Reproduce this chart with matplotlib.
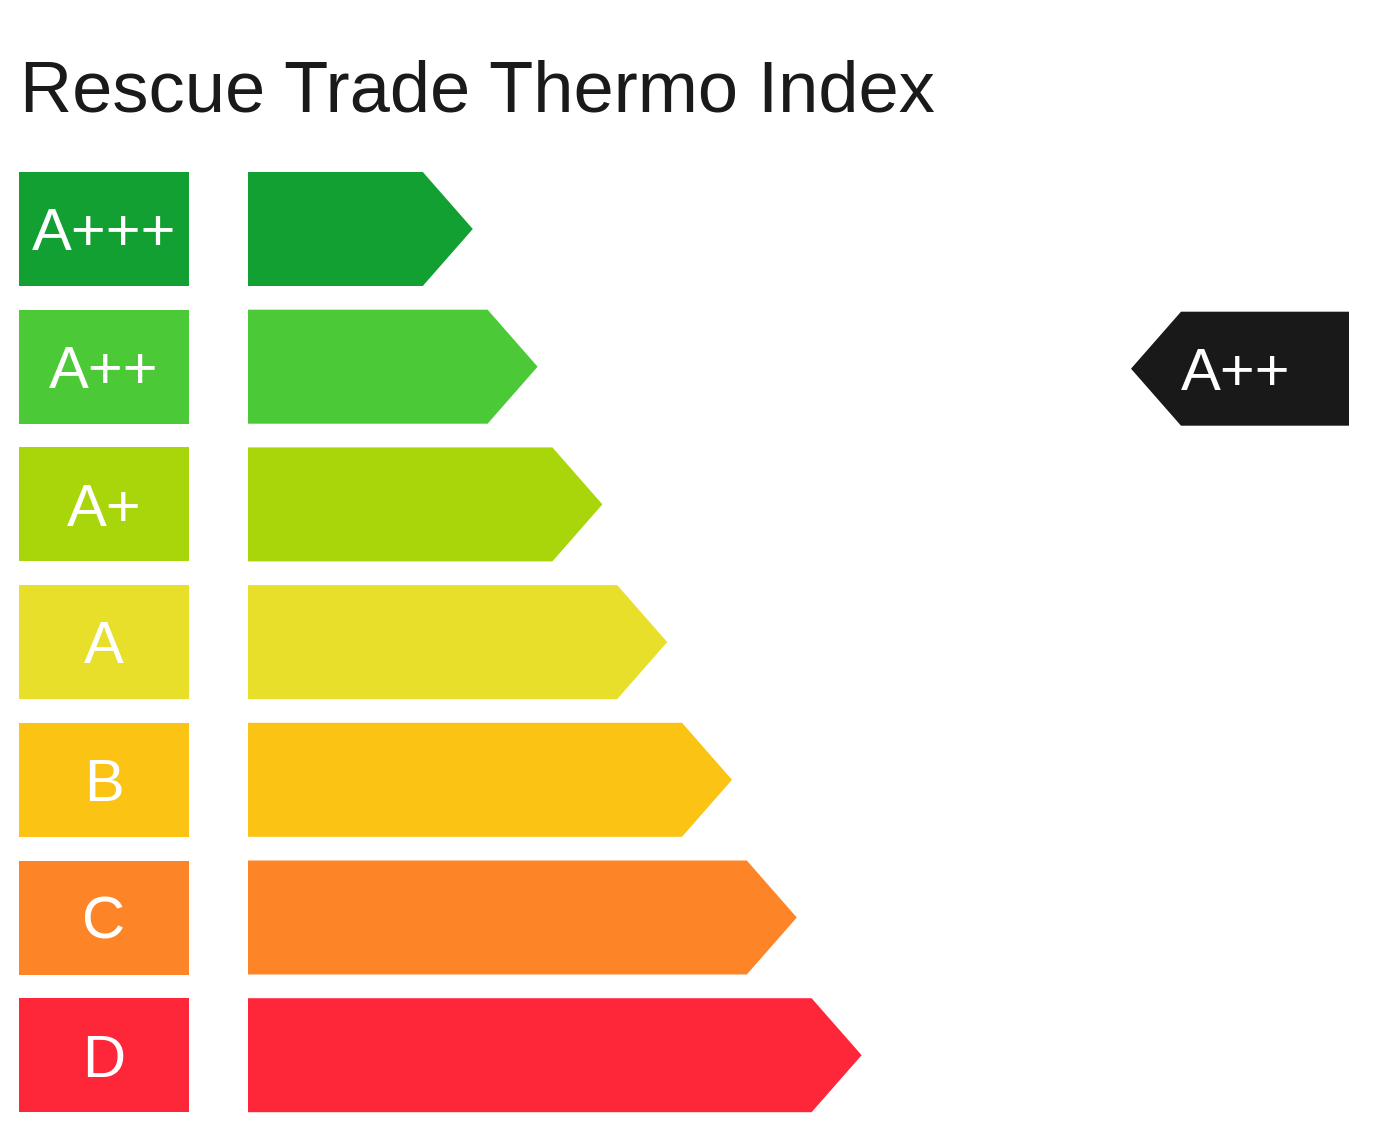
import matplotlib.pyplot as plt
from matplotlib.patches import Polygon, Rectangle

# energy-label style ratings, best to worst
ratings = ['A+++', 'A++', 'A+', 'A', 'B', 'C', 'D']
colors = ['#12a033', '#4cc936', '#a8d60a', '#e8df2a', '#fbc314', '#fe8428', '#fe2639']
scores = [1, 2, 3, 4, 5, 6, 7]   # arrow length grows with score
current = 'A++'
title = 'Rescue Trade Thermo Index'

W, H = 1376, 1134
FONT = 'Liberation Sans'

fig = plt.figure(figsize=(W / 100, H / 100), dpi=100)
ax = fig.add_axes([0, 0, 1, 1])
ax.set_xlim(0, W)
ax.set_ylim(H, 0)
ax.axis('off')

top0, pitch, bar_h = 172, 137.7, 114
box_x0, box_x1 = 19, 189
arr_x0, tip_w = 248, 50
base_len, step = 160, 64.8


def cap_text(x, y, s, size, color, ha='center'):
    # put the text so its cap height is centred on y
    em = size * 100 / 72
    ax.text(x, y + 0.358 * em, s, fontsize=size, color=color, ha=ha,
            va='baseline', family=FONT)


for i, (r, c, sc) in enumerate(zip(ratings, colors, scores)):
    y0 = top0 + i * pitch
    yc = y0 + bar_h / 2
    ax.add_patch(Rectangle((box_x0, y0), box_x1 - box_x0, bar_h, color=c, lw=0))
    cap_text((box_x0 + box_x1) / 2, yc, r, 43, 'white')

    x_end = arr_x0 + base_len + step * sc
    pts = [(arr_x0, y0), (x_end - tip_w, y0), (x_end, yc),
           (x_end - tip_w, y0 + bar_h), (arr_x0, y0 + bar_h)]
    ax.add_patch(Polygon(pts, closed=True, color=c, lw=0))

# indicator for the current rating
k = ratings.index(current)
y0 = top0 + k * pitch + 2
yc = y0 + bar_h / 2
ind_tip, ind_body, ind_end = 1131, 1181, 1349
pts = [(ind_tip, yc), (ind_body, y0), (ind_end, y0),
       (ind_end, y0 + bar_h), (ind_body, y0 + bar_h)]
ax.add_patch(Polygon(pts, closed=True, color='#191919', lw=0))
cap_text(1236, yc, current, 43, 'white')

# title
em = 52 * 100 / 72
ax.text(20, 86 + 0.358 * em, title, fontsize=52, color='#1a1a1a',
        ha='left', va='baseline', family=FONT)

fig.savefig('out.png', dpi=100)
